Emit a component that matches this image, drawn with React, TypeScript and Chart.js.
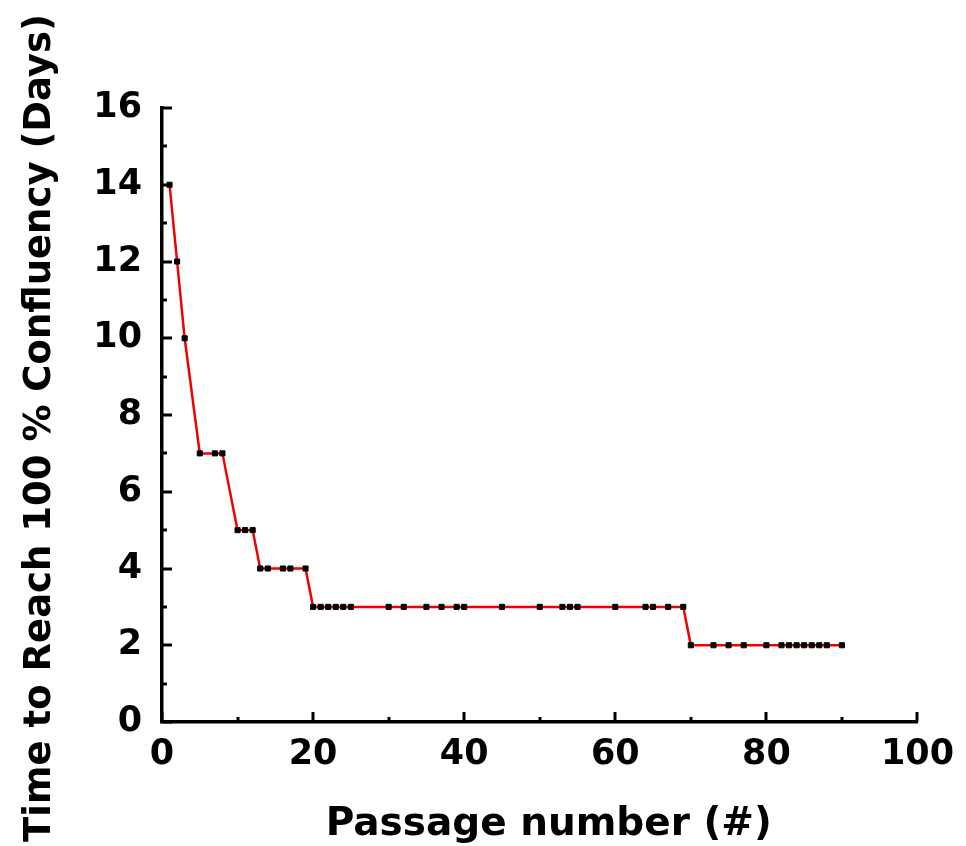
import React, { useEffect, useRef } from 'react';
import { Chart, registerables } from 'chart.js';

Chart.register(...registerables);

// ---- Data ----
const passageNumbers = [
  1, 2, 3, 5, 7, 8, 10, 11, 12, 13, 14, 16, 17, 19,
  20, 21, 22, 23, 24, 25, 30, 32, 35, 37, 39, 40, 45, 50, 53, 54, 55, 60, 64, 65, 67, 69,
  70, 73, 75, 77, 80, 82, 83, 84, 85, 86, 87, 88, 90,
];
const daysToConfluency = [
  14, 12, 10, 7, 7, 7, 5, 5, 5, 4, 4, 4, 4, 4,
  3, 3, 3, 3, 3, 3, 3, 3, 3, 3, 3, 3, 3, 3, 3, 3, 3, 3, 3, 3, 3, 3,
  2, 2, 2, 2, 2, 2, 2, 2, 2, 2, 2, 2, 2,
];
const xMajorTicks = [0, 20, 40, 60, 80, 100];
const xMinorTicks = [10, 30, 50, 70, 90];
const yMajorTicks = [0, 2, 4, 6, 8, 10, 12, 14, 16];
const yMinorTicks = [1, 3, 5, 7, 9, 11, 13, 15];
const xTitle = 'Passage number (#)';
const yTitle = 'Time to Reach 100 % Confluency (Days)';

const FONT = '"DejaVu Sans", sans-serif';

const axisDecorPlugin = {
  id: 'axisDecor',
  afterDatasetsDraw(chart: any) {
    const { ctx, chartArea, scales } = chart;
    const x = scales.x;
    const y = scales.y;
    ctx.save();
    ctx.strokeStyle = '#000';
    ctx.lineWidth = 3;
    const drawX = (v: number, len: number) => {
      const px = Math.round(x.getPixelForValue(v));
      ctx.beginPath();
      ctx.moveTo(px, chartArea.bottom);
      ctx.lineTo(px, chartArea.bottom - len);
      ctx.stroke();
    };
    const drawY = (v: number, len: number) => {
      const py = Math.round(y.getPixelForValue(v));
      ctx.beginPath();
      ctx.moveTo(chartArea.left, py);
      ctx.lineTo(chartArea.left + len, py);
      ctx.stroke();
    };
    xMajorTicks.forEach((v) => drawX(v, 10));
    xMinorTicks.forEach((v) => drawX(v, 5));
    yMajorTicks.forEach((v) => drawY(v, 10));
    yMinorTicks.forEach((v) => drawY(v, 5));
    ctx.restore();
  },
  afterDraw(chart: any) {
    const { ctx, chartArea } = chart;
    ctx.save();
    ctx.fillStyle = '#000';
    // x title
    ctx.font = `bold 39px ${FONT}`;
    ctx.textAlign = 'center';
    ctx.textBaseline = 'alphabetic';
    ctx.fillText(xTitle, (chartArea.left + chartArea.right) / 2 + 9, 835);
    // y title
    ctx.font = `bold 37px ${FONT}`;
    ctx.translate(50, (chartArea.top + chartArea.bottom) / 2 + 13);
    ctx.rotate(-Math.PI / 2);
    ctx.fillText(yTitle, 0, 0);
    ctx.restore();
  },
};

export default function App() {
  const canvasRef = useRef<HTMLCanvasElement | null>(null);

  useEffect(() => {
    const canvas = canvasRef.current;
    if (!canvas) return;
    const chart = new Chart(canvas, {
      type: 'line',
      data: {
        datasets: [
          {
            data: passageNumbers.map((p, i) => ({ x: p, y: daysToConfluency[i] })),
            borderColor: '#f00000',
            borderWidth: 2.5,
            pointStyle: 'rect',
            pointRadius: 3.6,
            pointBorderWidth: 1,
            pointBackgroundColor: '#000',
            pointBorderColor: '#000',
            tension: 0,
            fill: false,
          },
        ],
      },
      options: {
        responsive: false,
        animation: false,
        devicePixelRatio: 1,
        layout: { padding: { top: 108, right: 48, left: 0, bottom: 0 } },
        plugins: {
          legend: { display: false },
          tooltip: { enabled: false },
        },
        scales: {
          x: {
            type: 'linear',
            min: xMajorTicks[0],
            max: xMajorTicks[xMajorTicks.length - 1],
            afterFit: (s: any) => {
              s.height = 124;
            },
            grid: { display: false, drawTicks: false },
            border: { display: true, color: '#000', width: 3.5 },
            ticks: {
              stepSize: xMajorTicks[1] - xMajorTicks[0],
              color: '#000',
              padding: 12,
              maxRotation: 0,
              font: { family: FONT, size: 35, weight: 'bold' },
            },
          },
          y: {
            type: 'linear',
            min: yMajorTicks[0],
            max: yMajorTicks[yMajorTicks.length - 1],
            afterFit: (s: any) => {
              s.width = 162;
            },
            grid: { display: false, drawTicks: false },
            border: { display: true, color: '#000', width: 3.5 },
            ticks: {
              stepSize: yMajorTicks[1] - yMajorTicks[0],
              color: '#000',
              padding: 20,
              font: { family: FONT, size: 35, weight: 'bold' },
            },
          },
        },
      },
      plugins: [axisDecorPlugin],
    } as any);
    return () => chart.destroy();
  }, []);

  return (
    <div style={{ position: 'absolute', left: 0, top: 0, width: 966, height: 846, background: '#fff' }}>
      <canvas ref={canvasRef} width={966} height={846} style={{ display: 'block' }} />
    </div>
  );
}
